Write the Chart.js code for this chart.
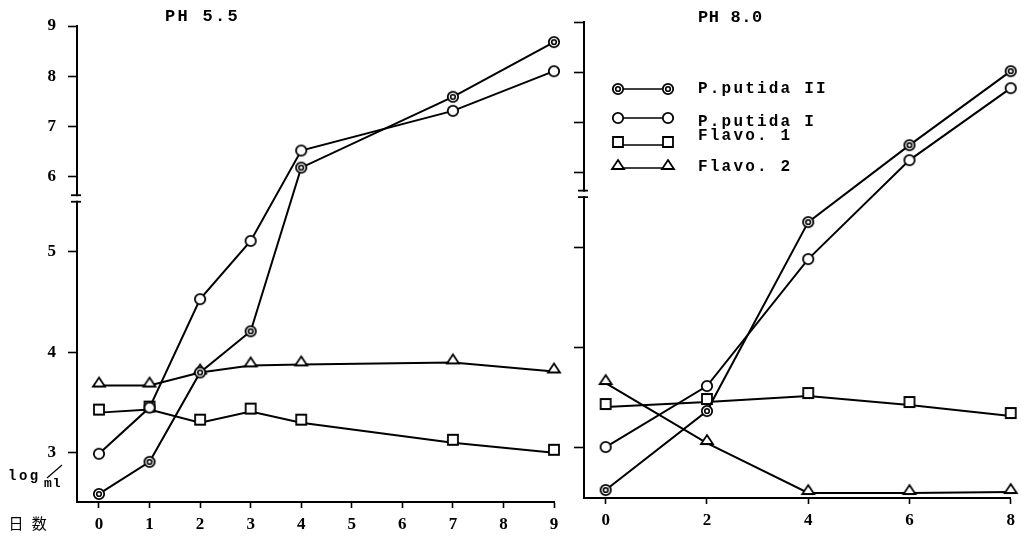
<!DOCTYPE html>
<html>
<head>
<meta charset="utf-8">
<script src="https://cdn.jsdelivr.net/npm/chart.js@4.4.1/dist/chart.umd.min.js"></script>
<style>
  html, body { margin: 0; padding: 0; background: #fff; }
  #wrap { position: relative; width: 1021px; height: 537px; overflow: hidden; background: #fff; }
  #ph55 { position: absolute; left: 0; top: 0; }
  #ph80 { position: absolute; left: 570px; top: 0; }
</style>
</head>
<body>
<div id="wrap">
  <canvas id="ph55" width="570" height="537"></canvas>
  <canvas id="ph80" width="451" height="537"></canvas>
</div>
<script>
// Sampling days and log counts per ml, pH 5.5
const daysPH55      = [0, 1, 2, 3, 4, 7, 9];
const putidaIIPH55  = [2.59, 2.91, 3.80, 4.21, 6.18, 7.59, 8.68];
const putidaIPH55   = [2.99, 3.45, 4.53, 5.11, 6.52, 7.31, 8.10];
const flavo1PH55    = [3.40, 3.43, 3.30, 3.41, 3.30, 3.10, 3.00];
const flavo2PH55    = [3.67, 3.67, 3.80, 3.87, 3.88, 3.90, 3.81];

// Sampling days and log counts per ml, pH 8.0
const daysPH80      = [0, 2, 4, 6, 8];
const putidaIIPH80  = [2.57, 3.36, 5.25, 6.54, 8.02];
const putidaIPH80   = [3.00, 3.61, 4.88, 6.24, 7.68];
const flavo1PH80    = [3.40, 3.45, 3.51, 3.42, 3.31];
const flavo2PH80    = [3.64, 3.04, 2.54, 2.54, 2.55];

// Axis ticks and labels
const dayTicksPH55 = [0, 1, 2, 3, 4, 5, 6, 7, 8, 9];
const dayTicksPH80 = [0, 2, 4, 6, 8];
const logTicks     = [3, 4, 5, 6, 7, 8, 9];
const seriesNames  = ['P.putida II', 'P.putida I', 'Flavo. 1', 'Flavo. 2'];
const panelTitles  = ['PH 5.5', 'PH 8.0'];
const dayAxisLabel = '日 数';
const countLabel   = ['log', 'ml'];

// The vertical axis is broken above 5.5: values from 6 up are drawn at half scale.
const BREAK_AT = 5.55;
function toAxis(v) { return v <= BREAK_AT ? v : 5.75 + (v - 6) * 0.5; }

// Marker glyphs
function makeMarker(kind) {
  const c = document.createElement('canvas');
  c.width = 18; c.height = 26;
  const g = c.getContext('2d');
  const cx = 9, cy = 13;
  g.lineWidth = 1.8; g.strokeStyle = '#000'; g.fillStyle = '#fff';
  g.beginPath();
  if (kind === 'ring' || kind === 'double') {
    g.arc(cx, cy, 5.2, 0, Math.PI * 2);
    g.fill(); g.stroke();
    if (kind === 'double') {
      g.lineWidth = 1.6;
      g.beginPath(); g.arc(cx, cy, 2.3, 0, Math.PI * 2); g.stroke();
    }
  } else if (kind === 'square') {
    g.rect(cx - 5, cy - 8, 10, 10);
    g.fill(); g.stroke();
  } else if (kind === 'triangle') {
    g.moveTo(cx, cy - 8); g.lineTo(cx + 6, cy + 1); g.lineTo(cx - 6, cy + 1); g.closePath();
    g.fill(); g.stroke();
  }
  return c;
}
const markers = [makeMarker('double'), makeMarker('ring'), makeMarker('square'), makeMarker('triangle')];

function series(days, values, idx) {
  return {
    label: seriesNames[idx],
    data: days.map((d, i) => ({ x: d, y: toAxis(values[i]) })),
    borderColor: '#000',
    borderWidth: 2,
    tension: 0,
    pointStyle: markers[idx],
    pointRadius: 6,
    clip: false
  };
}

function drawText(ctx, text, x, y, font, spacing) {
  ctx.save();
  ctx.font = font;
  ctx.letterSpacing = spacing + 'px';
  ctx.fillStyle = '#000';
  ctx.textBaseline = 'middle';
  ctx.textAlign = 'left';
  ctx.fillText(text, x, y);
  ctx.restore();
}

// White gap with two short caps across the vertical axis
const axisBreak = {
  id: 'axisBreak',
  afterDraw(chart) {
    const ys = chart.scales.y, ctx = chart.ctx;
    const x0 = chart.chartArea.left;
    const pUp = ys.getPixelForValue(5.565), pLo = ys.getPixelForValue(5.5);
    ctx.save();
    ctx.fillStyle = '#fff';
    ctx.fillRect(x0 - 3, pUp + 1, 6, pLo - pUp - 2);
    ctx.strokeStyle = '#000'; ctx.lineWidth = 1.8;
    [pUp, pLo].forEach(p => { ctx.beginPath(); ctx.moveTo(x0 - 6, p); ctx.lineTo(x0 + 4, p); ctx.stroke(); });
    ctx.restore();
  }
};

const tickFont = { family: '"Liberation Serif", serif', size: 17, weight: 'bold' };

function panelOptions(p) {
  return {
    responsive: false,
    animation: false,
    events: [],
    layout: { padding: { top: p.top, right: p.right, left: 0, bottom: 0 } },
    plugins: { legend: { display: false }, tooltip: { enabled: false }, title: { display: false } },
    scales: {
      x: {
        type: 'linear', min: p.xMin, max: p.xMax,
        afterBuildTicks: s => { s.ticks = p.dayTicks.map(v => ({ value: v })); },
        afterFit: s => { s.height = p.xHeight; },
        ticks: { color: '#000', font: tickFont, padding: 6, maxRotation: 0, autoSkip: false,
                 callback: v => String(v) },
        grid: { drawOnChartArea: false, drawTicks: true, tickLength: 6, tickColor: '#000', tickWidth: 1.6, color: '#000' },
        border: { display: true, color: '#000', width: 2 }
      },
      y: {
        type: 'linear', min: p.yMin, max: toAxis(9),
        afterBuildTicks: s => { s.ticks = logTicks.map(v => ({ value: toAxis(v) })); },
        afterFit: s => { s.width = p.yWidth; },
        ticks: { color: '#000', font: tickFont, padding: 12, autoSkip: false,
                 callback: (v, i) => p.showYLabels ? String(logTicks[i]) : '' },
        grid: { drawOnChartArea: false, drawTicks: true, tickLength: p.yTick, tickColor: '#000', tickWidth: 1.6, color: '#000' },
        border: { display: true, color: '#000', width: 2 }
      }
    }
  };
}

// pH 5.5 panel
new Chart(document.getElementById('ph55'), {
  type: 'line',
  data: { datasets: [
    series(daysPH55, putidaIIPH55, 0),
    series(daysPH55, putidaIPH55, 1),
    series(daysPH55, flavo1PH55, 2),
    series(daysPH55, flavo2PH55, 3)
  ] },
  options: panelOptions({ top: 26, right: 16, xMin: -0.435, xMax: 9, dayTicks: dayTicksPH55,
                          xHeight: 35, yMin: 2.51, yWidth: 77, yTick: 9, showYLabels: true }),
  plugins: [axisBreak, {
    id: 'ph55Text',
    afterDraw(chart) {
      const ctx = chart.ctx;
      drawText(ctx, panelTitles[0], 165, 17, 'bold 17px "Liberation Mono", monospace', 2.3);
      drawText(ctx, countLabel[0], 8, 476, 'bold 14px "Liberation Mono", monospace', 2.5);
      drawText(ctx, countLabel[1], 44, 484, 'bold 13px "Liberation Mono", monospace', 1);
      ctx.save();
      ctx.strokeStyle = '#000'; ctx.lineWidth = 1.2;
      ctx.beginPath(); ctx.moveTo(47, 478); ctx.lineTo(62, 465); ctx.stroke();
      ctx.restore();
      drawText(ctx, dayAxisLabel, 8.5, 523, '15px "Noto Sans CJK JP", sans-serif', 2.5);
    }
  }]
});

// pH 8.0 panel
new Chart(document.getElementById('ph80'), {
  type: 'line',
  data: { datasets: [
    series(daysPH80, putidaIIPH80, 0),
    series(daysPH80, putidaIPH80, 1),
    series(daysPH80, flavo1PH80, 2),
    series(daysPH80, flavo2PH80, 3)
  ] },
  options: panelOptions({ top: 22, right: 10, xMin: -0.428, xMax: 8, dayTicks: dayTicksPH80,
                          xHeight: 39, yMin: 2.49, yWidth: 14, yTick: 10, showYLabels: false }),
  plugins: [axisBreak, {
    id: 'ph80Text',
    afterDraw(chart) {
      const ctx = chart.ctx;
      drawText(ctx, panelTitles[1], 128, 17.5, 'bold 17px "Liberation Mono", monospace', 0.6);
      // key: marker, line, marker, name
      const rows = [89, 118, 145, 168];
      const textY = [89, 122, 136, 167];
      rows.forEach((y, i) => {
        ctx.save();
        ctx.strokeStyle = '#000'; ctx.lineWidth = 1.6;
        ctx.beginPath(); ctx.moveTo(48, y); ctx.lineTo(98, y); ctx.stroke();
        const m = markers[i];
        ctx.drawImage(m, 48 - m.width / 2, y - m.height / 2);
        ctx.drawImage(m, 98 - m.width / 2, y - m.height / 2);
        ctx.restore();
        drawText(ctx, seriesNames[i], 128, textY[i], 'bold 16px "Liberation Mono", monospace', 2.2);
      });
    }
  }]
});
</script>
</body>
</html>
